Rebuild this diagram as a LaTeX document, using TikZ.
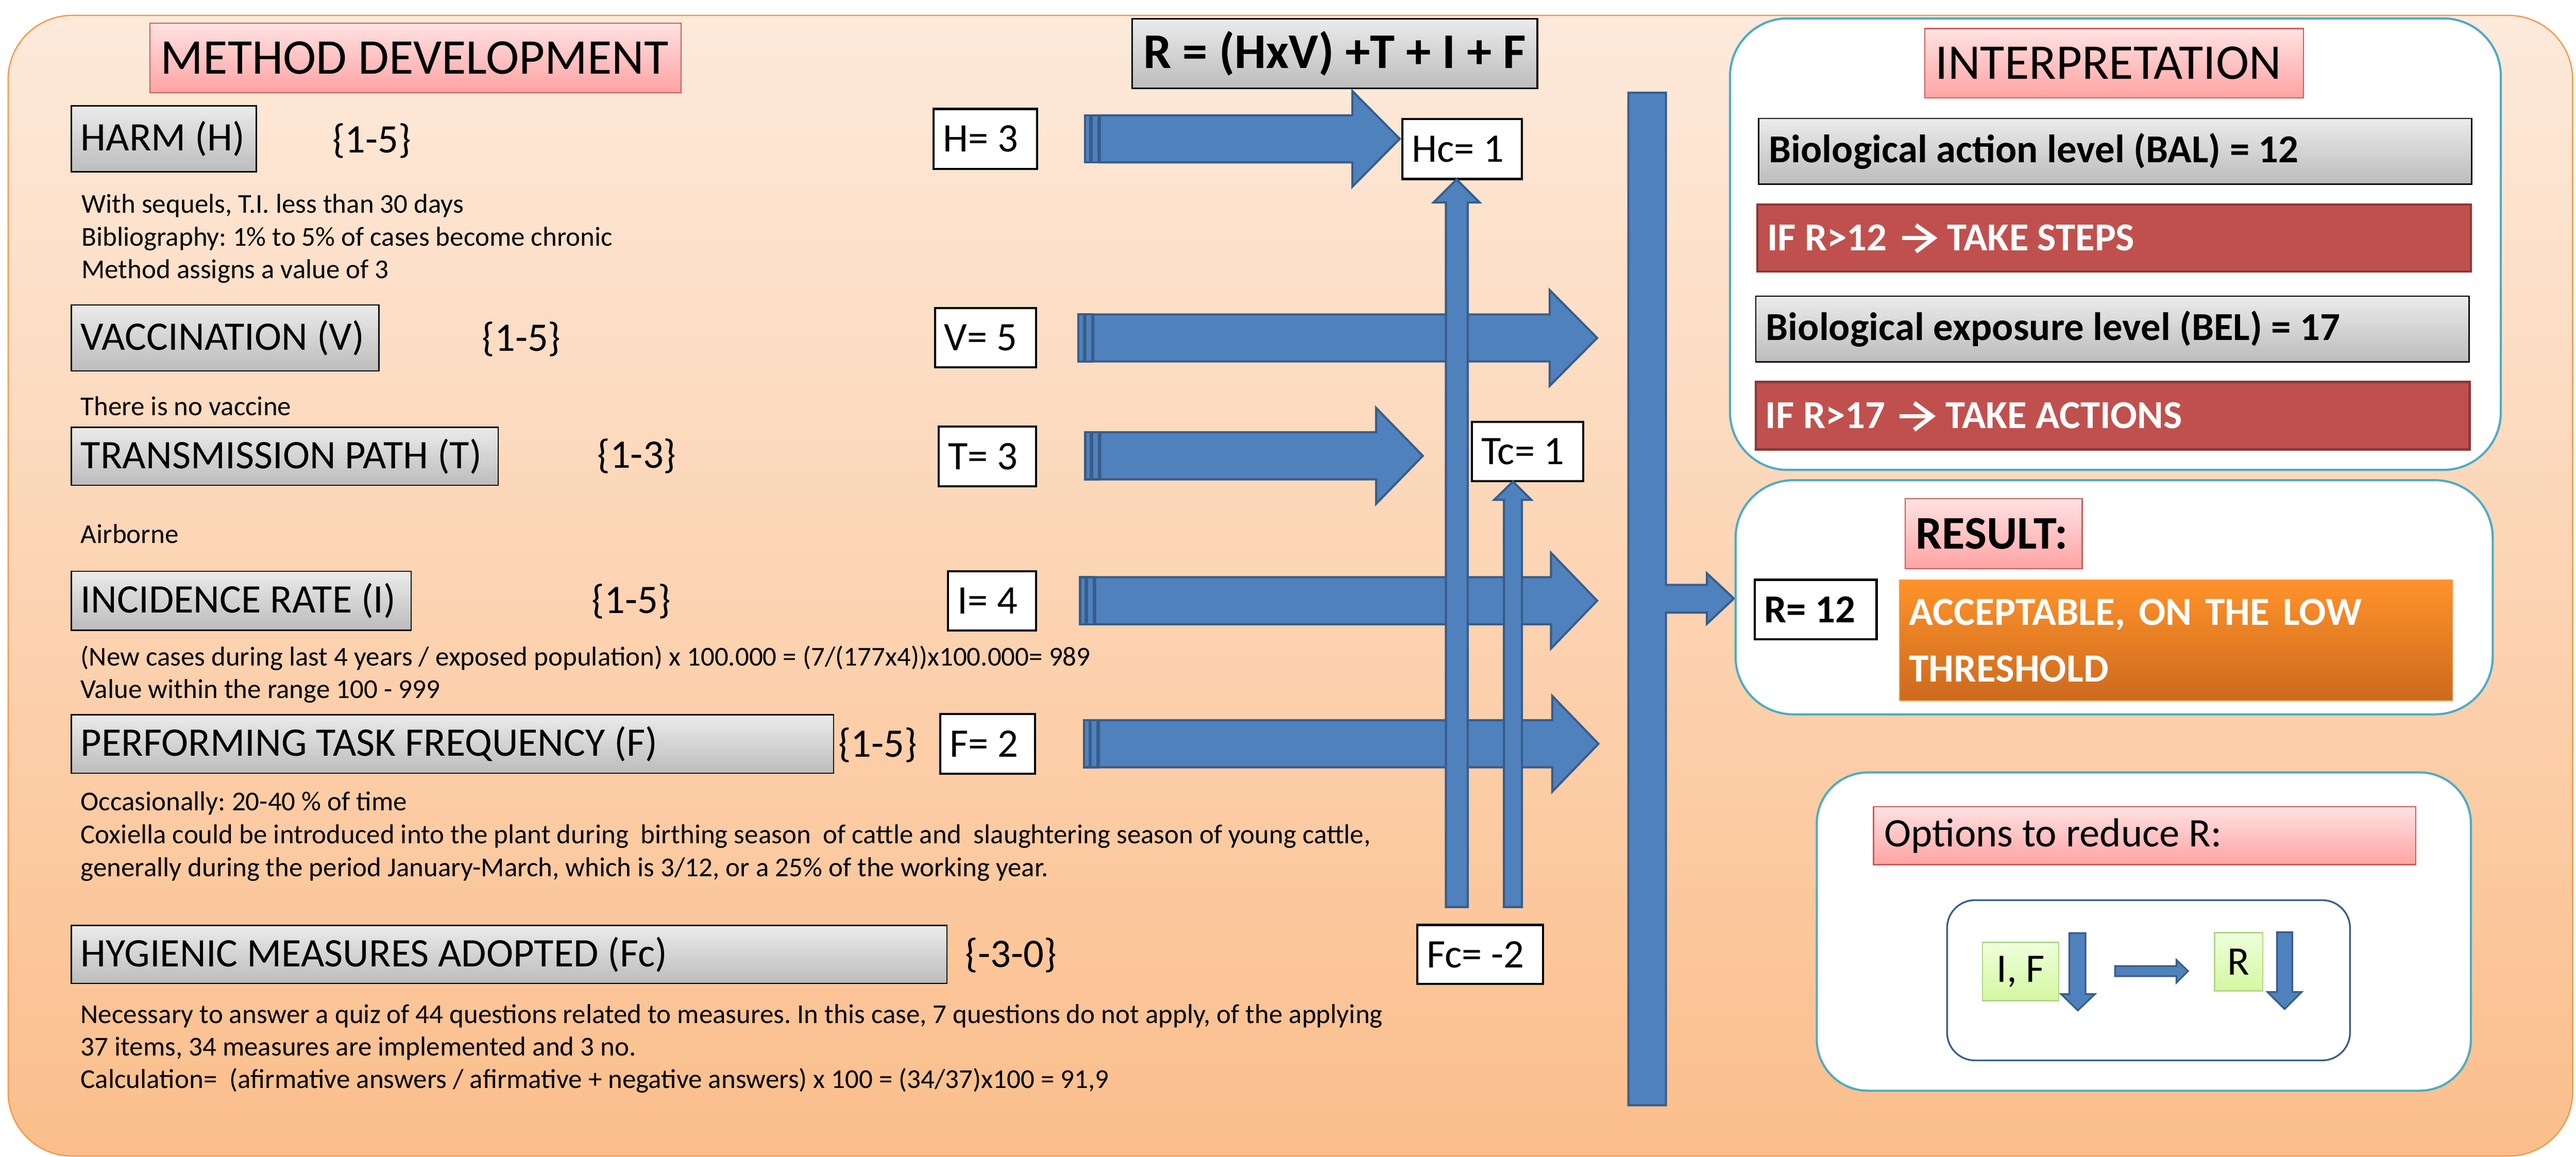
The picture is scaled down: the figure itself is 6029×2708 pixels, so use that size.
\documentclass[tikz,border=0pt]{standalone}
\usepackage{fontspec}
\setmainfont{Carlito}
\frenchspacing
\newdimen\px
\px=0.005cm
\newcommand\lefttxt[2]{\makebox[#1\px][l]{#2}}
\definecolor{bgtop}{HTML}{FDEADB}
\definecolor{bgbot}{HTML}{FBBE8B}
\definecolor{obord}{HTML}{F79646}
\definecolor{gtop}{HTML}{EBEBEB}
\definecolor{gbot}{HTML}{BCBCBC}
\definecolor{ptop}{HTML}{FFE2E2}
\definecolor{pbot}{HTML}{FFA3A3}
\definecolor{pline}{HTML}{D05A58}
\definecolor{redfill}{HTML}{C0504D}
\definecolor{redline}{HTML}{8C3836}
\definecolor{otop}{HTML}{FF922A}
\definecolor{obot}{HTML}{CC6A1E}
\definecolor{oline}{HTML}{F79646}
\definecolor{grtop}{HTML}{EFFFDC}
\definecolor{grbot}{HTML}{D4F8A0}
\definecolor{grline}{HTML}{B3D58A}
\definecolor{tealc}{HTML}{4BACC6}
\definecolor{afill}{HTML}{4F81BD}
\definecolor{aline}{HTML}{385D8A}
\newcommand\stripearrow[4]{%
  \draw[barrow] (#1,#2-55) rectangle (#1+13,#2+55);
  \draw[barrow] (#1+16,#2-55) rectangle (#1+32,#2+55);
  \draw[barrow] (#1+35,#2-55) -- (#3,#2-55) -- (#3,#2-112) -- (#4,#2) -- (#3,#2+112) -- (#3,#2+55) -- (#1+35,#2+55) -- cycle;}
\begin{document}
\begin{tikzpicture}[x=0.005cm,y=-0.005cm,
  every node/.style={inner sep=0pt, outer sep=0pt},
  fbig/.style={font=\fontsize{16.65}{20}\selectfont},
  fmid/.style={font=\fontsize{13.5}{16}\selectfont},
  fmidb/.style={font=\fontsize{13.2}{16}\selectfont\bfseries},
  fsmall/.style={font=\fontsize{9.1}{11}\selectfont},
  lbl/.style={anchor=north west, align=left, inner xsep=22\px, inner ysep=0pt},
  graybox/.style={lbl, draw=black, line width=3\px, top color=gtop, bottom color=gbot},
  pinkbox/.style={lbl, draw=pline, line width=3\px, top color=ptop, bottom color=pbot, inner xsep=25\px},
  valbox/.style={lbl, draw=black, line width=5\px, fill=white},
  redbox/.style={lbl, draw=redline, line width=5\px, fill=redfill, text=white, fmidb, inner xsep=23\px},
  container/.style={anchor=north west, draw=tealc, line width=5\px, fill=white},
  greenbox/.style={anchor=north west, draw=grline, line width=3\px, top color=grtop, bottom color=grbot, fmid},
  barrow/.style={fill=afill, draw=aline, line width=5\px},
  whitearrow/.style={draw=white, line width=10\px, line cap=butt, miter limit=10},
  desc/.style={anchor=base west, fsmall},
  rangelbl/.style={anchor=base west, fmid}]
\useasboundingbox (0,0) rectangle (6029,2708);
% background panel
\node[anchor=north west, minimum width=6002\px, minimum height=2670\px, rounded corners=150\px,
  draw=obord, line width=3\px, top color=bgtop, bottom color=bgbot] (bg) at (19,36) {};

% left column
\node[pinkbox, fbig, minimum height=163\px] (mdev) at (351,54) {\lefttxt{1193}{METHOD DEVELOPMENT}};

\node[graybox, fmid, minimum height=154\px] (harm) at (167,248) {\lefttxt{389}{HARM (H)}};
\node[rangelbl] (rh) at (778,357) {\{1-5\}};
\node[desc] (dh1) at (191,498) {With sequels, T.I. less than 30 days};
\node[desc] (dh2) at (191,576) {Bibliography: 1\% to 5\% of cases become chronic};
\node[desc] (dh3) at (191,652) {Method assigns a value of 3};

\node[graybox, fmid, minimum height=154\px] (vacc) at (167,714) {\lefttxt{676}{VACCINATION (V)}};
\node[rangelbl] (rv) at (1128,822) {\{1-5\}};
\node[desc] (dv1) at (189,972) {There is no vaccine};

\node[graybox, fmid, minimum height=136\px] (trans) at (167,1000) {\lefttxt{955}{TRANSMISSION PATH (T)}};
\node[rangelbl] (rt) at (1398,1096) {\{1-3\}};
\node[desc] (dt1) at (189,1272) {Airborne};

\node[graybox, fmid, minimum height=138\px] (inc) at (167,1337) {\lefttxt{751}{INCIDENCE RATE (I)}};
\node[rangelbl] (ri) at (1385,1436) {\{1-5\}};
\node[desc] (di1) at (189,1559) {(New cases during last 4 years / exposed population) x 100.000 = (7/(177x4))x100.000= 989};
\node[desc] (di2) at (189,1635) {Value within the range 100 - 999};

\node[graybox, fmid, minimum height=137\px] (perf) at (167,1673) {\lefttxt{1740}{PERFORMING TASK FREQUENCY (F)}};
\node[rangelbl] (rf) at (1962,1772) {\{1-5\}};
\node[desc] (df1) at (189,1897) {Occasionally: 20-40 \% of time};
\node[desc] (df2) at (189,1975) {Coxiella could be introduced into the plant during\ \ birthing season\ \ of cattle and\ \ slaughtering season of young cattle,};
\node[desc] (df3) at (189,2052) {generally during the period January-March, which is 3/12, or a 25\% of the working year.};

\node[graybox, fmid, minimum height=136\px] (hyg) at (167,2166) {\lefttxt{2005}{HYGIENIC MEASURES ADOPTED (Fc)}};
\node[rangelbl] (rfc) at (2259,2264) {\{-3-0\}};
\node[desc] (dc1) at (189,2395) {Necessary to answer a quiz of 44 questions related to measures. In this case, 7 questions do not apply, of the applying};
\node[desc] (dc2) at (189,2471) {37 items, 34 measures are implemented and 3 no.};
\node[desc] (dc3) at (189,2547) {Calculation=\ \ (afirmative answers / afirmative + negative answers) x 100 = (34/37)x100 = 91,9};

% formula
\node[anchor=north west, draw=black, line width=4\px, top color=gtop, bottom color=gbot,
  minimum width=948\px, minimum height=163\px, font=\fontsize{16.65}{20}\selectfont\bfseries] (formula) at (2650,44) {R = (HxV) +T + I + F};

% value boxes
\node[valbox, fmid, minimum height=140\px] (h3) at (2185,255) {\lefttxt{198}{H= 3}};
\node[valbox, fmid, minimum height=139\px] (v5) at (2188,721) {\lefttxt{193}{V= 5}};
\node[valbox, fmid, minimum height=140\px] (t3) at (2197,998) {\lefttxt{184}{T= 3}};
\node[valbox, fmid, minimum height=139\px] (i4) at (2219,1337) {\lefttxt{162}{I= 4}};
\node[valbox, fmid, minimum height=140\px] (f2) at (2201,1671) {\lefttxt{177}{F= 2}};
\node[valbox, fmid, minimum height=140\px] (hc) at (3282,279) {\lefttxt{236}{Hc= 1}};
\node[valbox, fmid, minimum height=138\px] (tc) at (3445,988) {\lefttxt{216}{Tc= 1}};
\node[valbox, fmid, minimum height=138\px] (fc) at (3317,2165) {\lefttxt{250}{Fc= -2}};

% horizontal striped block arrows
\stripearrow{2539}{325}{3165}{3276}
\stripearrow{2524}{791}{3627}{3738}
\stripearrow{2540}{1067}{3221}{3330}
\stripearrow{2528}{1406}{3630}{3738}
\stripearrow{2537}{1741}{3633}{3741}

% vertical up arrows to Hc and Tc
\draw[barrow] (3384,2123) -- (3384,474) -- (3355,474) -- (3409,420) -- (3463,474) -- (3435,474) -- (3435,2123) -- cycle;
\draw[barrow] (3520,2123) -- (3520,1170) -- (3497,1170) -- (3541,1127) -- (3584,1170) -- (3562,1170) -- (3562,2123) -- cycle;

% collecting bar with arrow to result
\draw[barrow] (3811,217) -- (3899,217) -- (3899,1369) -- (3995,1369) -- (3995,1342) -- (4058,1401) -- (3995,1460) -- (3995,1434) -- (3899,1434) -- (3899,2587) -- (3811,2587) -- cycle;

% interpretation panel
\node[container, minimum width=1804\px, minimum height=1057\px, rounded corners=135\px] (interpc) at (4049,43) {};
\node[pinkbox, fbig, minimum height=162\px] (interp) at (4505,67) {\lefttxt{836}{INTERPRETATION}};
\node[graybox, fmidb, minimum height=154\px, inner xsep=24\px] (bal) at (4116,277) {\lefttxt{1621}{Biological action level (BAL) = 12}};
\node[redbox, minimum height=156\px] (if12) at (4113,479) {\lefttxt{1624}{IF R>12\hspace{20pt}TAKE STEPS}};
\node[graybox, fmidb, minimum height=154\px, inner xsep=24\px] (bel) at (4109,693) {\lefttxt{1622}{Biological exposure level (BEL) = 17}};
\node[redbox, minimum height=158\px] (if17) at (4109,894) {\lefttxt{1625}{IF R>17\hspace{20pt}TAKE ACTIONS}};
% arrows inside the two red boxes
\draw[whitearrow] (4452,557) -- (4522,557);
\draw[whitearrow] (4484,527) -- (4526,557) -- (4484,589);
\draw[whitearrow] (4446,974) -- (4518,974);
\draw[whitearrow] (4480,943) -- (4522,974) -- (4480,1006);

% result panel
\node[container, minimum width=1772\px, minimum height=548\px, rounded corners=135\px] (resc) at (4062,1124) {};
\node[pinkbox, font=\fontsize{15.6}{19}\selectfont\bfseries, minimum height=164\px] (result) at (4459,1167) {\lefttxt{364}{RESULT:}};
\node[valbox, fmidb, minimum height=139\px] (r12) at (4107,1357) {\lefttxt{241}{R= 12}};
\node[anchor=north west, top color=otop, bottom color=obot, draw=oline, line width=2\px,
  text width=1250\px, inner xsep=22\px, minimum height=282\px, align=left, text=white,
  font=\fontsize{13.3}{18.9}\selectfont\bfseries] (verdict) at (4446,1358) {ACCEPTABLE, ON THE LOW\\THRESHOLD};

% options panel
\node[container, minimum width=1531\px, minimum height=745\px, rounded corners=120\px] (optc) at (4252,1808) {};
\node[pinkbox, fmid, minimum height=136\px] (opt) at (4385,1888) {\lefttxt{1219}{Options to reduce R:}};
\node[anchor=north west, draw=aline, line width=4\px, fill=white, rounded corners=65\px,
  minimum width=943\px, minimum height=375\px] (optin) at (4557,2107) {};
\node[greenbox, minimum width=178\px, minimum height=136\px] (ifg) at (4640,2206) {I, F};
\node[greenbox, minimum width=113\px, minimum height=136\px] (rg) at (5183,2183) {R};
\draw[barrow, line width=4\px] (4843,2184) -- (4881,2184) -- (4881,2327) -- (4903,2327) -- (4863,2365) -- (4824,2327) -- (4843,2327) -- cycle;
\draw[barrow, line width=4\px] (4950,2261) -- (5094,2261) -- (5094,2247) -- (5121,2273) -- (5094,2300) -- (5094,2285) -- (4950,2285) -- cycle;
\draw[barrow, line width=4\px] (5329,2182) -- (5365,2182) -- (5365,2322) -- (5387,2322) -- (5347,2362) -- (5307,2322) -- (5329,2322) -- cycle;
\end{tikzpicture}
\end{document}
